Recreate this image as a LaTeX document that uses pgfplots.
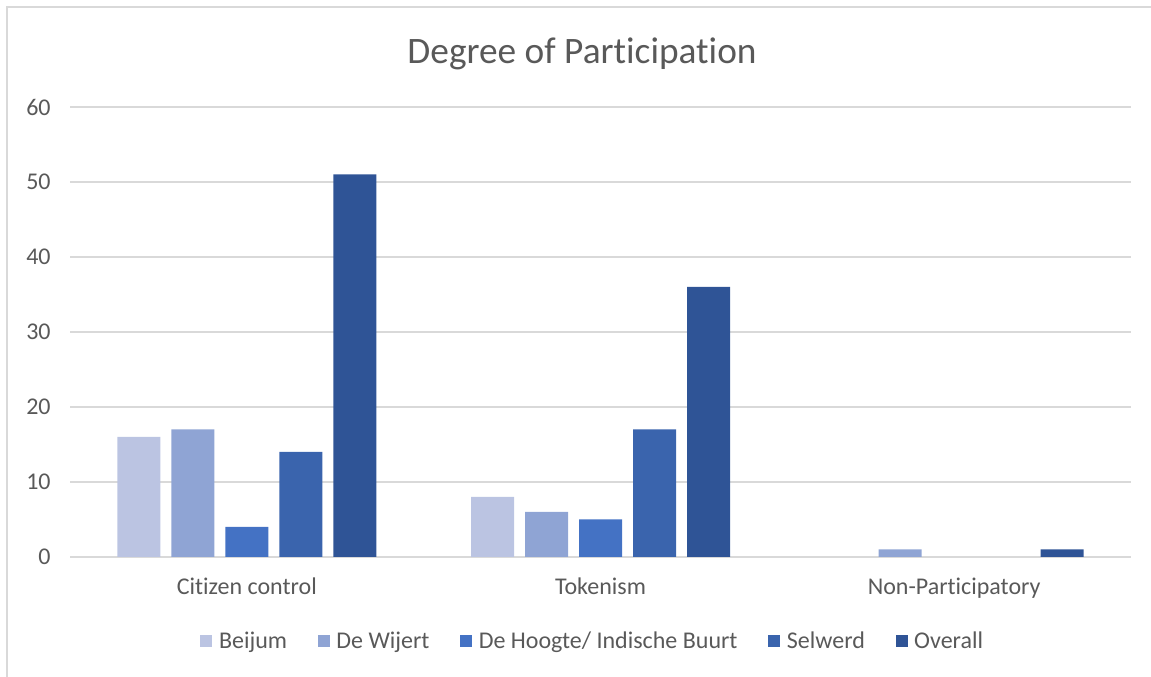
\documentclass[border=0pt]{standalone}
\usepackage{pgfplots}
\pgfplotsset{compat=1.18}
\usepackage{fontspec}
\setmainfont[Ligatures={NoCommon}]{Carlito}
\definecolor{cA}{HTML}{BBC4E2}
\definecolor{cB}{HTML}{8FA4D4}
\definecolor{cC}{HTML}{4472C4}
\definecolor{cD}{HTML}{3A64AD}
\definecolor{cE}{HTML}{2F5496}
\definecolor{txt}{HTML}{595959}
\definecolor{grd}{HTML}{D9D9D9}
\begin{document}
\begin{tikzpicture}[x=0.75pt,y=0.75pt]
\useasboundingbox (0,0) rectangle (1151,677);
\draw[grd, line width=1.1pt] (7,-5) -- (7,670) -- (1160,670);
\begin{axis}[
  at={(52.5pt,90pt)}, anchor=south west,
  scale only axis, width=795.75pt, height=337.5pt,
  xmin=-0.5, xmax=2.5, ymin=0, ymax=60,
  ytick={0,10,...,60},
  xtick={0,1,2},
  xticklabels={Citizen control, Tokenism, Non-Participatory},
  ymajorgrids,
  grid style={grd, line width=0.9pt},
  axis line style={draw=none},
  major tick style={draw=none},
  ybar=8.25pt, bar width=32.25pt,
  tick label style={font=\fontsize{18}{20}\selectfont, text=txt},
  yticklabel style={xshift=-11pt},
  xticklabel style={yshift=-8pt},
  /pgf/number format/assume math mode=true,
  legend style={at={(0.493,-0.187)}, anchor=center, draw=none, fill=none,
    legend columns=-1, font=\fontsize{18}{20}\selectfont, text=txt,
    /tikz/every odd column/.append style={column sep=3pt},
    /tikz/every even column/.append style={column sep=21pt}},
  legend image code/.code={\fill[#1] (0pt,-4.5pt) rectangle (9pt,4.5pt);},
]
\addplot[fill=cA, draw=none] coordinates {(0,16) (1,8)};
\addplot[fill=cB, draw=none] coordinates {(0,17) (1,6) (2,1)};
\addplot[fill=cC, draw=none] coordinates {(0,4) (1,5)};
\addplot[fill=cD, draw=none] coordinates {(0,14) (1,17)};
\addplot[fill=cE, draw=none] coordinates {(0,51) (1,36) (2,1)};
\legend{Beijum, De Wijert, De Hoogte/ Indische Buurt, Selwerd, Overall}
\end{axis}
\node[font=\fontsize{28}{32}\selectfont, text=txt] at (582,623) {Degree of Participation};
\end{tikzpicture}
\end{document}
